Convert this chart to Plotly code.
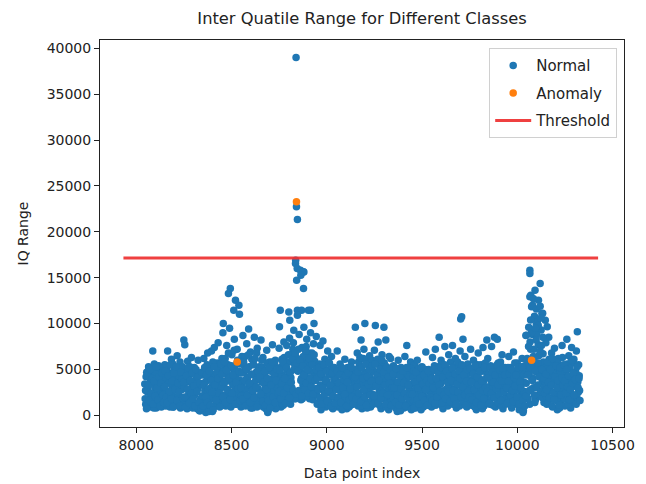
import plotly.graph_objects as go

# IQR values are stored in hundreds; three interleaved passes over the index range
IQR_UNIT = 100
index_step = 5

# pass A starts at index 8045
start_a = 8045
iqr_a = [
    34, 12, 47, 25, 53, 9, 39, 20, 44, 15, 56, 29, 8, 36, 49, 18, 27, 51, 11, 41,
    23, 55, 10, 38, 70, 26, 46, 13, 61, 32, 9, 50, 20, 43, 65, 15, 35, 58, 11, 28,
    49, 82, 77, 14, 36, 59, 22, 9, 45, 63, 30, 12, 52, 24, 40, 7, 60, 33, 5, 18,
    44, 10, 62, 27, 3, 38, 68, 16, 51, 23, 70, 4, 42, 74, 30, 12, 57, 79, 20, 48,
    14, 62, 90, 33, 54, 10, 76, 43, 22, 95, 37, 67, 12, 50, 83, 28, 45, 72, 17, 59,
    38, 9, 64, 87, 26, 52, 13, 78, 41, 94, 22, 69, 34, 8, 56, 85, 18, 47, 73, 29,
    53, 11, 82, 36, 63, 22, 45, 7, 71, 3, 39, 58, 16, 28, 77, 48, 9, 60, 25, 33,
    20, 73, 46, 9, 61, 34, 80, 15, 52, 76, 26, 43, 84, 12, 66, 23, 79, 18, 68, 25,
    62, 20, 88, 49, 17, 74, 33, 96, 58, 22, 83, 40, 68, 18, 90, 36, 55, 78, 24, 44,
    86, 12, 53, 30, 76, 6, 42, 81, 21, 61, 9, 37, 70, 16, 50, 26, 64, 8, 45, 32,
    19, 43, 70, 9, 35, 56, 24, 6, 48, 15, 61, 30, 7, 52, 22, 40, 11, 58, 28, 36,
    46, 96, 20, 68, 10, 53, 34, 82, 7, 44, 72, 100, 26, 59, 13, 38, 65, 9, 49, 23,
    33, 71, 98, 14, 56, 80, 28, 45, 7, 66, 39, 96, 19, 82, 51, 25, 6, 43, 62, 17,
    36, 54, 10, 26, 47, 4, 60, 31, 15, 52, 22, 41, 8, 64, 35, 76, 12, 49, 27, 58,
    13, 44, 26, 55, 8, 38, 60, 19, 49, 31, 6, 53, 23, 42, 11, 69, 35, 16, 50, 28,
    45, 9, 63, 24, 54, 72, 35, 13, 48, 85, 21, 60, 37, 7, 51, 75, 28, 43, 10, 66,
    30, 58, 15, 76, 44, 23, 62, 8, 39, 53, 18, 70, 26, 47, 83, 12, 64, 34, 9, 56,
    25, 46, 72, 11, 38, 60, 20, 51, 6, 42, 68, 29, 14, 55, 35, 74, 10, 48, 22, 82,
    62, 31, 12, 54, 75, 24, 43, 85, 9, 36, 83, 57, 16, 47, 28, 66, 7, 39, 52, 21,
    44, 15, 64, 30, 52, 8, 38, 69, 21, 48, 12, 57, 33, 6, 45, 25, 62, 3, 36, 54,
    87, 24, 56, 96, 12, 72, 41, 88, 30, 63, 17, 99, 47, 77, 21, 53, 93, 36, 67, 14,
    35, 79, 12, 56, 85, 27, 45, 68, 9, 39, 73, 20, 51, 6, 62, 30, 47, 15, 76, 24,
    53, 10, 38, 83, 22, 65, 42, 8, 74, 31, 57, 16, 46, 70, 91, 25, 43,
]

# pass B starts at index 8047
start_b = 8047
iqr_b = [
    18, 42, 10, 29, 51, 15, 36, 23, 47, 8, 32, 45, 13, 26, 54, 20, 39, 9, 31, 48,
    40, 12, 27, 52, 17, 35, 9, 44, 24, 56, 14, 38, 30, 11, 49, 21, 42, 8, 33, 53,
    12, 30, 46, 19, 7, 41, 27, 53, 15, 35, 8, 48, 22, 38, 11, 29, 44, 5, 17, 33,
    21, 47, 13, 36, 7, 55, 26, 4, 42, 18, 31, 58, 9, 45, 22, 35, 16, 50, 28, 39,
    30, 11, 48, 22, 62, 37, 15, 55, 26, 43, 9, 66, 33, 19, 51, 40, 12, 60, 24, 46,
    56, 21, 35, 11, 47, 64, 29, 41, 16, 53, 33, 8, 61, 25, 44, 13, 38, 68, 20, 50,
    14, 39, 25, 52, 9, 44, 30, 18, 57, 5, 35, 22, 48, 12, 40, 27, 55, 7, 31, 45,
    38, 15, 52, 28, 44, 11, 63, 33, 20, 49, 36, 58, 25, 41, 30, 72, 24, 55, 18, 61,
    26, 72, 25, 52, 40, 18, 64, 30, 46, 75, 21, 56, 33, 48, 26, 68, 17, 42, 59, 29,
    22, 47, 14, 56, 33, 9, 41, 27, 50, 16, 35, 58, 11, 44, 24, 53, 31, 7, 39, 19,
    41, 15, 28, 49, 11, 36, 21, 45, 8, 32, 18, 51, 25, 38, 9, 47, 13, 30, 43, 20,
    26, 50, 13, 38, 58, 21, 44, 10, 33, 62, 17, 47, 36, 8, 55, 28, 42, 15, 60, 31,
    48, 16, 39, 22, 61, 33, 11, 52, 27, 43, 18, 57, 36, 9, 45, 30, 64, 14, 37, 24,
    19, 43, 27, 8, 36, 16, 49, 24, 5, 40, 31, 12, 47, 21, 38, 9, 44, 28, 15, 51,
    34, 17, 48, 10, 29, 42, 22, 51, 14, 37, 26, 46, 9, 33, 50, 19, 41, 27, 12, 45,
    22, 48, 14, 37, 29, 11, 53, 25, 41, 17, 34, 56, 10, 45, 27, 38, 15, 51, 31, 20,
    47, 21, 36, 12, 53, 29, 42, 17, 58, 33, 10, 46, 24, 39, 15, 50, 28, 43, 19, 35,
    38, 13, 29, 50, 21, 44, 9, 35, 26, 55, 16, 40, 31, 48, 7, 36, 23, 57, 14, 42,
    25, 45, 17, 38, 29, 11, 52, 34, 20, 46, 14, 39, 27, 58, 10, 43, 31, 18, 49, 36,
    29, 52, 18, 40, 11, 34, 46, 24, 57, 15, 38, 28, 49, 9, 42, 19, 35, 5, 26, 47,
    35, 62, 18, 47, 80, 28, 56, 40, 72, 14, 51, 88, 33, 65, 23, 44, 76, 19, 58, 30,
    52, 21, 40, 14, 61, 31, 48, 10, 37, 56, 24, 44, 16, 58, 35, 8, 47, 27, 63, 39,
    18, 45, 29, 56, 12, 38, 51, 24, 42, 15, 61, 33, 47, 20, 36, 55, 27,
]

# pass C starts at index 8049
start_c = 8049
iqr_c = [
    27, 7, 44, 33, 16, 50, 24, 40, 12, 37, 21, 53, 30, 17, 42, 10, 35, 46, 22, 14,
    31, 48, 20, 14, 43, 26, 55, 18, 37, 9, 46, 28, 53, 16, 35, 25, 10, 47, 39, 19,
    36, 20, 9, 43, 28, 52, 13, 38, 24, 46, 18, 32, 10, 50, 26, 42, 14, 35, 8, 47,
    10, 33, 52, 20, 44, 14, 29, 48, 11, 38, 25, 6, 53, 33, 17, 46, 40, 24, 9, 56,
    45, 20, 36, 58, 14, 49, 28, 68, 40, 17, 54, 24, 44, 71, 12, 35, 57, 29, 48, 16,
    30, 46, 18, 58, 38, 10, 50, 22, 66, 35, 14, 45, 27, 55, 19, 62, 31, 9, 48, 40,
    42, 23, 60, 15, 36, 48, 11, 28, 40, 16, 52, 8, 33, 58, 20, 45, 14, 38, 50, 24,
    26, 49, 18, 35, 58, 24, 40, 13, 52, 30, 66, 19, 47, 36, 62, 27, 50, 68, 23, 57,
    48, 27, 60, 38, 21, 54, 44, 28, 70, 35, 50, 24, 62, 40, 31, 55, 23, 66, 38, 50,
    40, 28, 52, 19, 45, 12, 30, 55, 23, 38, 48, 15, 27, 57, 33, 10, 46, 21, 52, 13,
    28, 48, 19, 35, 44, 14, 52, 30, 39, 23, 43, 10, 36, 46, 17, 29, 52, 20, 12, 41,
    42, 18, 31, 47, 24, 63, 15, 52, 40, 28, 20, 56, 11, 42, 33, 50, 22, 37, 54, 12,
    21, 56, 32, 44, 13, 38, 50, 19, 60, 24, 47, 33, 12, 53, 22, 42, 35, 50, 11, 30,
    45, 30, 14, 51, 22, 36, 11, 43, 29, 18, 48, 35, 24, 10, 52, 19, 33, 42, 23, 6,
    23, 41, 8, 36, 47, 17, 30, 12, 40, 52, 21, 34, 44, 16, 28, 38, 11, 48, 35, 20,
    39, 16, 30, 50, 13, 40, 20, 47, 33, 26, 52, 13, 42, 22, 55, 18, 48, 36, 26, 43,
    15, 38, 51, 27, 18, 45, 12, 34, 25, 48, 40, 20, 55, 31, 44, 22, 11, 37, 50, 26,
    20, 51, 36, 17, 45, 28, 54, 14, 42, 33, 22, 48, 11, 37, 27, 18, 52, 30, 41, 26,
    41, 13, 52, 24, 47, 36, 19, 44, 29, 55, 33, 22, 49, 16, 37, 51, 26, 44, 12, 30,
    13, 37, 45, 22, 50, 27, 15, 41, 32, 44, 20, 52, 12, 36, 30, 53, 16, 44, 10, 21,
    60, 44, 75, 27, 52, 90, 38, 64, 22, 48, 82, 30, 57, 42, 70, 26, 50, 85, 40, 24,
    45, 28, 58, 36, 19, 50, 33, 62, 25, 17, 42, 54, 30, 38, 11, 52, 22, 41, 33, 55,
    37, 24, 50, 31, 43, 17, 28, 60, 35, 46, 22, 39, 12, 53, 30, 40, 16,
]

# Normal points that rise above the main band (full units)
peak_index = [
    8087, 8457, 8494, 8484, 8521, 8539, 8512, 8542,
    8752, 8756, 8801, 8806, 8827,
    8839, 8841, 8846, 8837, 8836, 8845, 8862, 8880, 8877, 8864, 8842, 8878,
    8846, 8868, 8904, 8915, 8846, 8933,
    9703, 9708,
    10048, 10066, 10066, 10120, 10093, 10071, 10066, 10111, 10075, 10133, 10129,
    10147, 10157, 10080, 10100, 10090, 10105, 10085, 10120, 10070, 10110, 10095, 10125,
]
peak_iqr = [
    7000, 10000, 13820, 13270, 12550, 12000, 11450, 11020,
    9640, 11450, 11270, 10360, 9270,
    39000, 22730, 21350, 16900, 16550, 16000, 15820, 15630, 15640, 15270, 14730, 13820,
    11450, 11450, 11450, 11450, 10900, 10000,
    10500, 10730,
    8730, 15820, 15450, 14360, 13640, 13090, 12910, 12550, 11820, 11130, 11090,
    10360, 9640, 12000, 11600, 10800, 10200, 12700, 11900, 10400, 9800, 9500, 10600,
]

anomaly_index = [8530, 8841, 10075]
anomaly_iqr = [5820, 23270, 6000]

threshold_index = [7933, 10424]
threshold_value = 17150

x_ticks = [8000, 8500, 9000, 9500, 10000, 10500]
y_ticks = [0, 5000, 10000, 15000, 20000, 25000, 30000, 35000, 40000]


def pass_points(start, values):
    xs = [start + index_step * k for k in range(len(values))]
    ys = [v * IQR_UNIT for v in values]
    return xs, ys


normal_x, normal_y = [], []
for start, values in ((start_a, iqr_a), (start_b, iqr_b), (start_c, iqr_c)):
    xs, ys = pass_points(start, values)
    normal_x += xs
    normal_y += ys
normal_x += peak_index
normal_y += peak_iqr

blue = "#1f77b4"
orange = "#ff7f0e"
font_family = "DejaVu Sans"
text_color = "#222222"

fig = go.Figure()
fig.add_trace(go.Scatter(
    x=normal_x, y=normal_y,
    mode="markers", name="Normal", legendgroup="normal",
    marker=dict(color=blue, size=7.5, line=dict(width=0)),
))
fig.add_trace(go.Scatter(
    x=anomaly_index, y=anomaly_iqr,
    mode="markers", name="Anomaly", legendgroup="anomaly",
    marker=dict(color=orange, size=7.5, line=dict(width=0)),
))
fig.add_trace(go.Scatter(
    x=threshold_index, y=[threshold_value] * len(threshold_index),
    mode="lines", name="Threshold", legendgroup="threshold",
    line=dict(color="rgba(238,48,48,0.92)", width=3),
))

axis_common = dict(
    showline=True, mirror=True, linecolor=text_color, linewidth=1,
    ticks="outside", ticklen=5, tickcolor=text_color,
    showgrid=False, zeroline=False, tickformat="d", automargin=False,
    tickfont=dict(family=font_family, size=14, color=text_color),
)

fig.update_layout(
    width=646, height=484,
    margin=dict(l=100, r=22, t=40, b=57),
    paper_bgcolor="white", plot_bgcolor="white",
    font=dict(family=font_family, color=text_color),
    title=dict(
        text="Inter Quatile Range for Different Classes",
        x=0.5604, xanchor="center", y=0.963, yanchor="middle",
        font=dict(family=font_family, size=16.3, color=text_color),
    ),
    xaxis=dict(
        range=[7810, 10560], tickvals=x_ticks,
        title=dict(text="Data point index", standoff=16,
                   font=dict(family=font_family, size=14, color=text_color)),
        **axis_common,
    ),
    yaxis=dict(
        range=[-1276, 40910], tickvals=y_ticks,
        title=dict(text="IQ Range", standoff=14,
                   font=dict(family=font_family, size=14, color=text_color)),
        **axis_common,
    ),
    legend=dict(
        x=0.987, xanchor="right", y=0.979, yanchor="top",
        bgcolor="white", bordercolor="#d0d0d0", borderwidth=1,
        tracegroupgap=5, itemwidth=36,
        font=dict(family=font_family, size=15, color=text_color),
    ),
    showlegend=True,
)

fig.write_html("out.html")
